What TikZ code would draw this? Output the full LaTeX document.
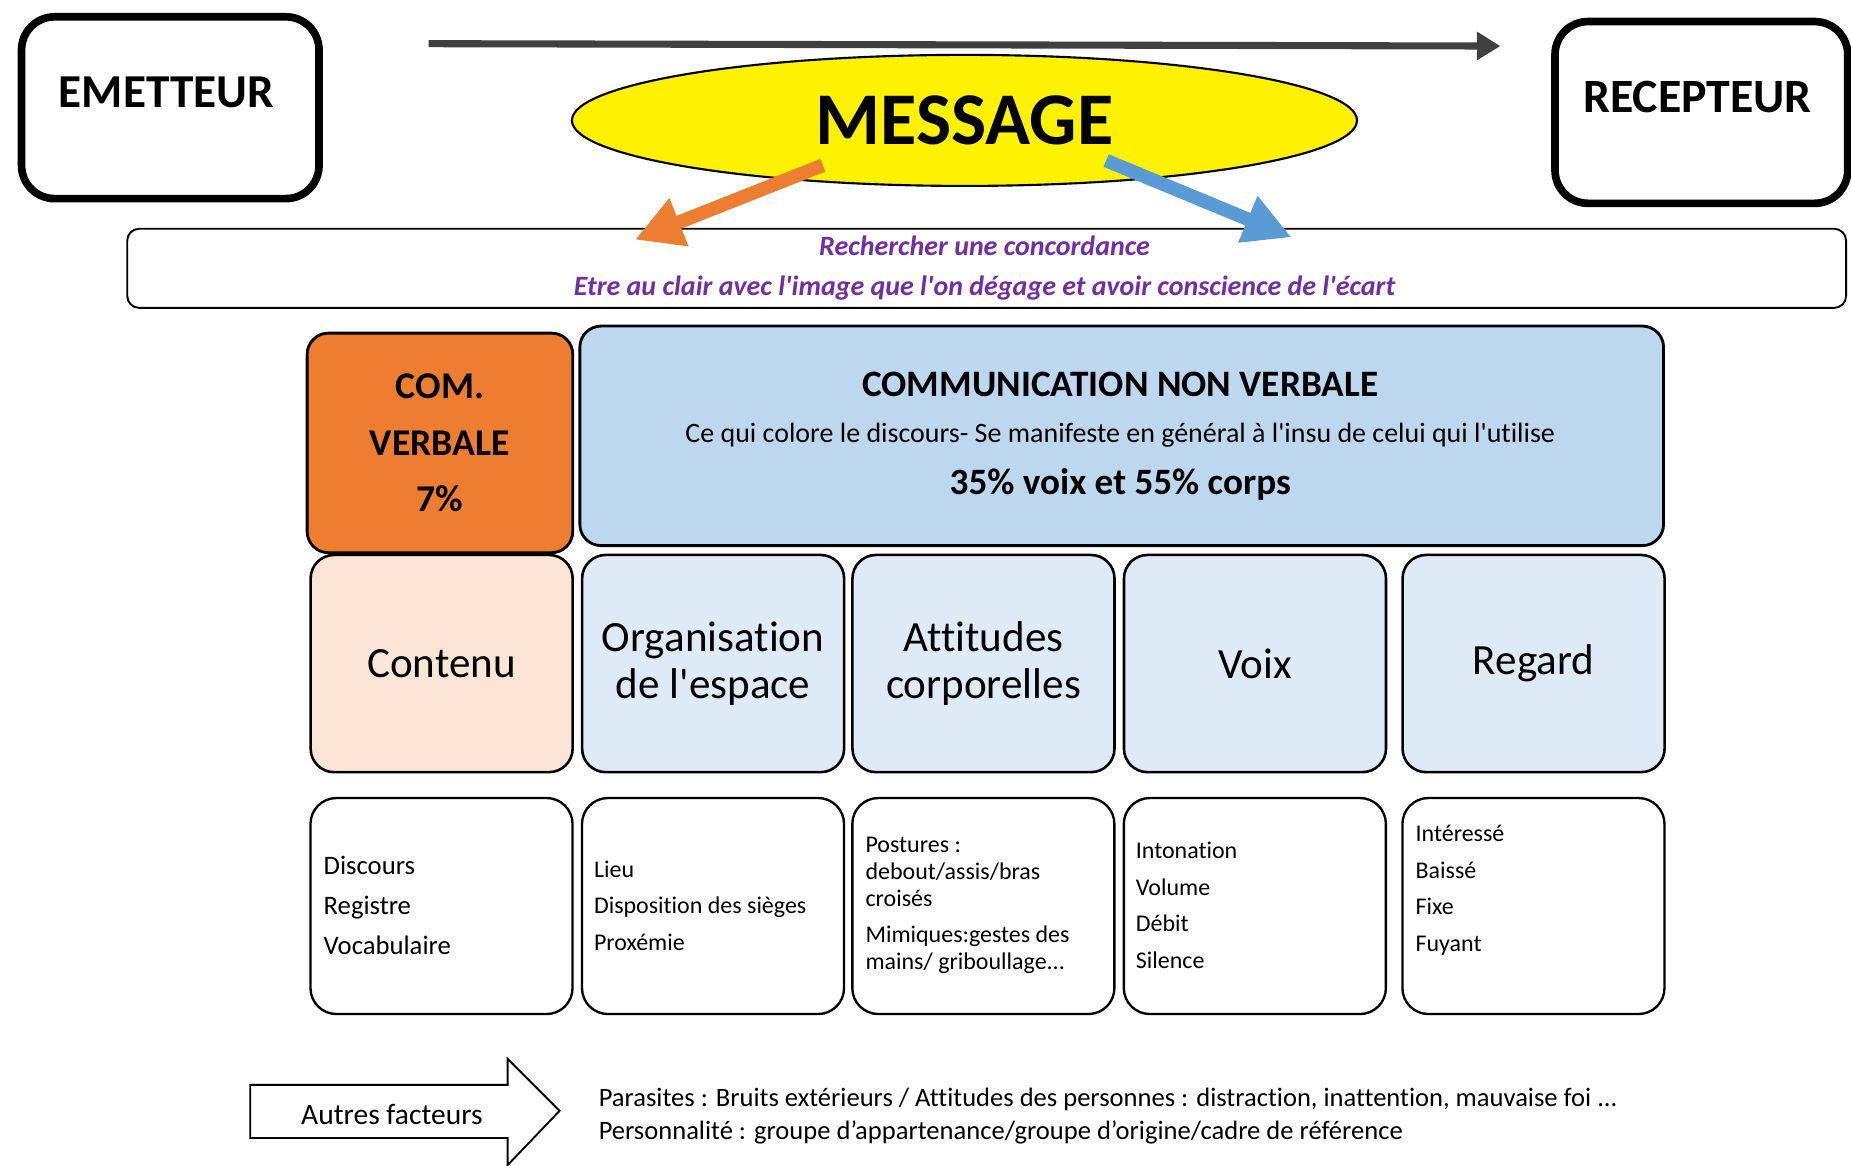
\documentclass[tikz,border=0pt]{standalone}
\usepackage{fontspec}
\setmainfont{Carlito}[Ligatures={TeXOff,CommonOff}]
\usetikzlibrary{arrows.meta,shapes.geometric}
\definecolor{corange}{HTML}{ED7D31}
\definecolor{cblue}{HTML}{5B9BD5}
\definecolor{hblue}{HTML}{BDD7EE}
\definecolor{lblue}{HTML}{DEEBF7}
\definecolor{peach}{HTML}{FBE5D6}
\definecolor{cpurple}{HTML}{7030A0}
\definecolor{dgrey}{HTML}{404040}
\newcommand\fsz[2]{\fontsize{#1}{#2}\selectfont}
\tikzset{
  actor/.style={draw, line width=6.5pt, rounded corners=28pt, fill=white, anchor=north west, inner sep=0pt},
  hdr/.style={draw, line width=2.4pt, rounded corners=18pt, anchor=north west, inner sep=0pt, align=center},
  catbox/.style={draw, line width=2.2pt, rounded corners=20pt, fill=lblue, anchor=north west, inner sep=0pt, align=center, font=\fsz{36.5}{40}, minimum width=222pt, minimum height=184pt},
  detail/.style={draw, line width=2pt, rounded corners=22pt, fill=white, anchor=north west, inner sep=0pt, minimum width=222pt, minimum height=183pt},
  dtext/.style={anchor=west, align=left, inner sep=0pt, font=\fsz{20.3}{31}},
  ctext/.style={text=cpurple, font=\fsz{23.7}{28}\bfseries\itshape, inner sep=0pt},
  bigarrow/.style={line width=11.5pt},
}
\begin{document}
\begin{tikzpicture}[x=1pt,y=-1pt]
\useasboundingbox (0,0) rectangle (1568,987);
\fill[white] (0,0) rectangle (1568,987);

% actors
\node[actor, minimum width=252pt, minimum height=154pt] (em) at (15,11) {};
\node[font=\fsz{40}{46}\bfseries] (emt) at (141,78) {EMETTEUR};
\node[actor, minimum width=248pt, minimum height=154pt] (rc) at (1314,15) {};
\node[font=\fsz{40.5}{46}\bfseries] (rct) at (1438,82) {RECEPTEUR};

% main flow arrow
\coordinate (fs) at (363,37);
\coordinate (fe) at (1271,39);
\draw[dgrey, line width=6pt, -{Triangle[length=20pt,width=23pt]}] (fs) -- (fe);

% message
\node[ellipse, draw, line width=1.8pt, fill=yellow, minimum width=665pt, minimum height=111pt, inner sep=0pt, font=\fsz{63}{70}\bfseries] (msg) at (817,102) {MESSAGE};

% concordance box
\node[draw, line width=1.6pt, rounded corners=10pt, anchor=north west, minimum width=1456pt, minimum height=67pt, inner sep=0pt] (conc) at (107,193) {};
\node[ctext] (c1) at (834,208) {Rechercher une concordance};
\node[ctext] (c2) at (834,244) {Etre au clair avec l'image que l'on dégage et avoir conscience de l'écart};

% orange / blue arrows
\coordinate (ot) at (697,140);
\coordinate (oh) at (538,203);
\coordinate (bt) at (937,136);
\coordinate (bh) at (1094,201);
\draw[bigarrow, corange, -{Triangle[length=40pt,width=41pt]}] (ot) -- (oh);
\draw[bigarrow, cblue, -{Triangle[length=40pt,width=40pt]}] (bt) -- (bh);

% header boxes
\node[hdr, fill=corange, minimum width=225pt, minimum height=186pt, font=\fsz{32}{48}\bfseries] (cv) at (259,281) {COM.\\VERBALE\\7\%};
\node[hdr, fill=hblue, minimum width=918pt, minimum height=186pt] (cnv) at (490,275) {};
\node[font=\fsz{31.6}{34}\bfseries] (cnv1) at (949,326) {COMMUNICATION NON VERBALE};
\node[font=\fsz{23.7}{26}] (cnv2) at (949,369) {Ce qui colore le discours- Se manifeste en général à l'insu de celui qui l'utilise};
\node[font=\fsz{31.5}{34}\bfseries] (cnv3) at (949,410) {35\% voix et 55\% corps};

% category boxes
\node[catbox, fill=peach] (k1) at (262,469) {Contenu};
\node[catbox] (k2) at (492,469) {Organisation\\de l'espace};
\node[catbox] (k3) at (721,469) {Attitudes\\corporelles};
\node[catbox] (k4) at (951,469) {Voix};
\node[catbox] (k5) at (1187,469) {Regard};

% detail boxes
\node[detail] (d1) at (262,675) {};
\node[detail] (d2) at (492,675) {};
\node[detail] (d3) at (721,675) {};
\node[detail] (d4) at (951,675) {};
\node[detail] (d5) at (1187,675) {};
\node[dtext, font=\fsz{22.6}{34}] (t1) at (274,767) {Discours\\Registre\\Vocabulaire};
\node[dtext] (t2) at (503,767) {Lieu\\Disposition des sièges\\Proxémie};
\node[dtext, font=\fsz{20.3}{22.5}] (t3) at (733,767) {Postures :\\debout/assis/bras\\croisés\\[8.5pt]Mimiques:gestes des\\mains/ griboullage...};
\node[dtext] (t4) at (962,767) {Intonation\\Volume\\Débit\\Silence};
\node[dtext] (t5) at (1199,754) {Intéressé\\Baissé\\Fixe\\Fuyant};

% autres facteurs
\draw[line width=1.6pt, fill=white] (212,919) -- (430,919) -- (430,897) -- (474,941) -- (430,987) -- (430,964) -- (212,964) -- cycle;
\node[font=\fsz{25}{28}] (af) at (332,944) {Autres facteurs};
\node[anchor=west, inner sep=0pt, font=\fsz{22.5}{26}] (p1) at (507,931) {Parasites : Bruits extérieurs / Attitudes des personnes : distraction, inattention, mauvaise foi ...};
\node[anchor=west, inner sep=0pt, font=\fsz{22.5}{26}] (p2) at (507,959) {Personnalité : groupe d’appartenance/groupe d’origine/cadre de référence};
\end{tikzpicture}
\end{document}
